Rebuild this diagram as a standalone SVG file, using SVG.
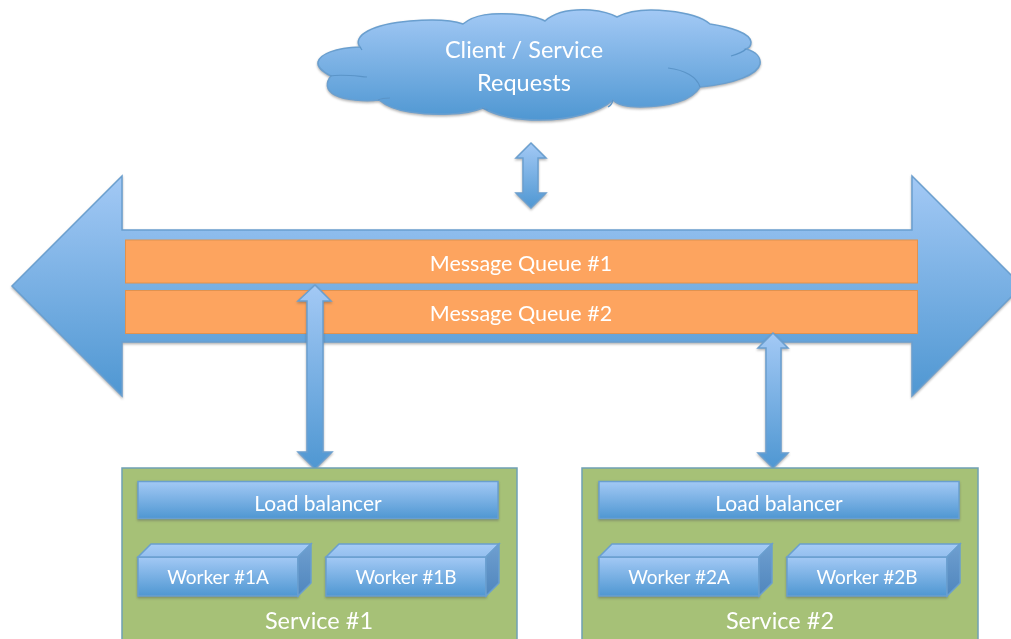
<svg xmlns="http://www.w3.org/2000/svg" width="1011" height="639" viewBox="0 0 1011 639">
<style>
.blue{stroke:#6a9fcf;stroke-width:1.5;stroke-linejoin:miter}
.t{font-family:Lato,"Open Sans","Liberation Sans",sans-serif;fill:#fff;text-anchor:middle}
.orange{fill:#fda45f;stroke:#e0924f;stroke-width:1}
.lbl{font-size:21px}
.wk{font-size:19px}
.ln{fill:none;stroke:#5a94c8;stroke-width:1.2}
</style>
<defs>
<linearGradient id="g" x1="0" y1="0" x2="0" y2="1"><stop offset="0" stop-color="#a3c9f5"/><stop offset="1" stop-color="#4f97d2"/></linearGradient>
<linearGradient id="gt" x1="0" y1="0" x2="0" y2="1"><stop offset="0" stop-color="#a6ccf6"/><stop offset="1" stop-color="#94bfef"/></linearGradient>
<linearGradient id="gs" x1="0" y1="0" x2="0" y2="1"><stop offset="0" stop-color="#6f9fd0"/><stop offset="1" stop-color="#4f86bd"/></linearGradient>
<filter id="soft" x="-5%" y="-5%" width="110%" height="110%" color-interpolation-filters="sRGB"><feGaussianBlur stdDeviation="0.55"/></filter>
<filter id="sh" x="-10%" y="-10%" width="120%" height="125%" color-interpolation-filters="sRGB"><feDropShadow dx="0" dy="1.5" stdDeviation="1.3" flood-color="#555" flood-opacity="0.45"/></filter>
</defs>
<rect width="1011" height="639" fill="#fff"/>
<g filter="url(#soft)">
<g id="bus">
<path class="blue" fill="url(#g)" filter="url(#sh)" d="M12 286L122 176V230H912V176L1022 286L912 396V342H122V396Z"/>
</g>
<g id="queue1"><rect class="orange" x="125.500" y="240" width="792" height="43"/><text class="t" x="521" y="271" font-size="21.500">Message Queue #1</text></g>
<g id="queue2"><rect class="orange" x="125.500" y="290.500" width="792" height="43"/><text class="t" x="521" y="321" font-size="21.500">Message Queue #2</text></g>
<g id="cloud">
<path class="blue" fill="url(#g)" filter="url(#sh)" d="M360 47C352 36 372 24 410 21C435 19 452 20 463 24C475 14 492 13 512 14C526 15 538 17 545 21C556 11 572 9 590 10C600 11 610 13 617 17C630 10 650 9 668 11C688 13 703 18 710 24C730 27 750 33 751 42C751 46 749 48 746 49C757 52 761 58 760 64C758 74 735 84 700 87C692 100 670 107 640 107C628 107 618 105 613 100C600 112 570 120 540 120C515 120 495 115 483 108C465 115 435 116 410 112C395 110 385 105 379 100C365 102 345 100 335 95C325 90 326 82 331 76C325 73 317 68 318 62C320 54 335 48 360 47Z"/>
<path class="ln" d="M330 76C342 74 355 76 367 77M378 100C382 98 387 98 390 98M482 108L488 110M613 100C612 104 610 106 608 107M668 68C685 70 697 77 700 87M731 56C738 54 743 52 746 49M360 47L362 50"/>
<text class="t" x="524" y="58" font-size="23.500">Client / Service</text>
<text class="t" x="524" y="91" font-size="23.500">Requests</text>
</g>
<g id="connectors">
<path class="blue" fill="url(#g)" filter="url(#sh)" d="M531 143L546 158H538V193H546L531 208L516 193H523V158H516Z"/>
<path class="blue" fill="url(#g)" filter="url(#sh)" d="M315 285L331 301H323V452H332L315 469L298 452H307V301H298Z"/>
<path class="blue" fill="url(#g)" filter="url(#sh)" d="M773 333L788 348H781V453H788L773 468L758 453H766V348H758Z"/>
</g>
<g id="service1">
<rect x="122" y="468" width="395" height="180" fill="#a6c177" stroke="#6fa0b4" stroke-width="1.500"/>
<text class="t" x="319" y="629" font-size="23.500">Service #1</text>
<g id="lb1"><rect class="blue" fill="url(#g)" filter="url(#sh)" x="138" y="481.500" width="360" height="37"/><text class="t lbl" x="318" y="511">Load balancer</text></g>
<g id="worker1a"><path filter="url(#sh)" fill="url(#g)" class="blue" d="M138 557H298V596H138Z"/><path fill="url(#gt)" class="blue" d="M138 557L151 544H311L298 557Z"/><path fill="url(#gs)" class="blue" d="M298 557L311 544V583L298 596Z"/><text class="t wk" x="218" y="584">Worker #1A</text></g>
<g id="worker1b"><path filter="url(#sh)" fill="url(#g)" class="blue" d="M326 557H486V596H326Z"/><path fill="url(#gt)" class="blue" d="M326 557L339 544H499L486 557Z"/><path fill="url(#gs)" class="blue" d="M486 557L499 544V583L486 596Z"/><text class="t wk" x="406" y="584">Worker #1B</text></g>
</g>
<g id="service2">
<rect x="582" y="468" width="396" height="180" fill="#a6c177" stroke="#6fa0b4" stroke-width="1.500"/>
<text class="t" x="780" y="629" font-size="23.500">Service #2</text>
<g id="lb2"><rect class="blue" fill="url(#g)" filter="url(#sh)" x="599" y="481.500" width="360" height="37"/><text class="t lbl" x="779" y="511">Load balancer</text></g>
<g id="worker2a"><path filter="url(#sh)" fill="url(#g)" class="blue" d="M599 557H759V596H599Z"/><path fill="url(#gt)" class="blue" d="M599 557L612 544H772L759 557Z"/><path fill="url(#gs)" class="blue" d="M759 557L772 544V583L759 596Z"/><text class="t wk" x="679" y="584">Worker #2A</text></g>
<g id="worker2b"><path filter="url(#sh)" fill="url(#g)" class="blue" d="M787 557H947V596H787Z"/><path fill="url(#gt)" class="blue" d="M787 557L800 544H960L947 557Z"/><path fill="url(#gs)" class="blue" d="M947 557L960 544V583L947 596Z"/><text class="t wk" x="867" y="584">Worker #2B</text></g>
</g>
</g>
</svg>
